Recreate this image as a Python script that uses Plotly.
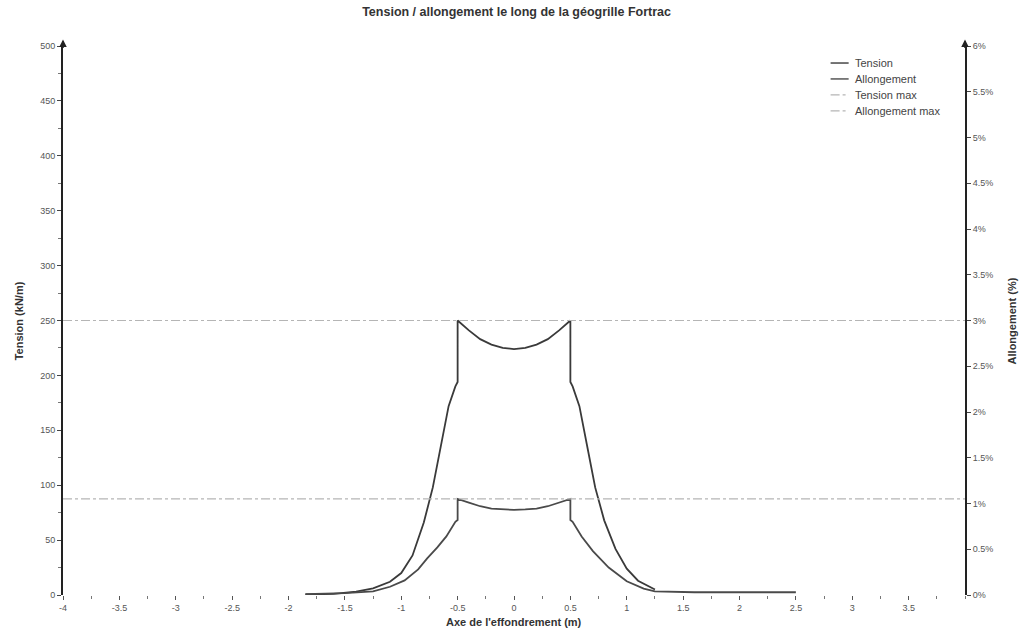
import plotly.graph_objects as go

# Position along the collapse axis (m) and tension in the geogrid (kN/m)
tension_x = [-1.85, -1.6, -1.4, -1.25, -1.1, -1.0, -0.9, -0.8, -0.72, -0.65, -0.58, -0.52, -0.5,
             -0.5, -0.4, -0.3, -0.2, -0.1, 0.0, 0.1, 0.2, 0.3, 0.4, 0.5,
             0.5, 0.52, 0.58, 0.65, 0.72, 0.8, 0.9, 1.0, 1.1, 1.25]
tension_kn = [0.5, 1, 3, 6, 12, 20, 36, 66, 98, 135, 172, 190, 194,
              250, 241, 233, 228, 225, 224, 225, 228, 233, 241, 250,
              194, 190, 172, 135, 98, 68, 42, 24, 13, 5]

# Strain along the same axis (%)
allong_x = [-1.85, -1.5, -1.25, -1.1, -0.97, -0.85, -0.77, -0.68, -0.6, -0.52, -0.5,
            -0.5, -0.4, -0.3, -0.2, -0.1, 0.0, 0.1, 0.2, 0.3, 0.4, 0.5,
            0.5, 0.52, 0.6, 0.7, 0.84, 1.0, 1.15, 1.25, 1.6, 2.0, 2.5]
allong_pct = [0.01, 0.02, 0.04, 0.09, 0.16, 0.28, 0.40, 0.52, 0.64, 0.80, 0.82,
              1.05, 1.01, 0.97, 0.945, 0.935, 0.93, 0.935, 0.945, 0.97, 1.01, 1.05,
              0.82, 0.80, 0.64, 0.48, 0.30, 0.15, 0.07, 0.04, 0.03, 0.03, 0.03]

# Design limits
TENSION_MAX = 250
ALLONG_MAX = 1.05
X_SPAN = [-4, 4]

# Tick labels
x_ticks = [-4, -3.5, -3, -2.5, -2, -1.5, -1, -0.5, 0, 0.5, 1, 1.5, 2, 2.5, 3, 3.5]
x_ticklabels = ["-4", "-3.5", "-3", "-2.5", "-2", "-1.5", "-1", "-0.5", "0",
                "0.5", "1", "1.5", "2", "2.5", "3", "3.5"]
y2_ticks = [0, 0.5, 1, 1.5, 2, 2.5, 3, 3.5, 4, 4.5, 5, 5.5, 6]
y2_ticklabels = ["0%", "0.5%", "1%", "1.5%", "2%", "2.5%", "3%", "3.5%",
                 "4%", "4.5%", "5%", "5.5%", "6%"]

FONT = "Liberation Sans, Arial, sans-serif"
TICK_FONT = dict(family=FONT, size=9, color="#555555")

SERIES_STYLE = {
    "Tension": dict(color="#3a3a3a", width=1.8, dash="solid"),
    "Allongement": dict(color="#4a4a4a", width=1.8, dash="solid"),
    "Tension max": dict(color="#b5b5b5", width=1.2, dash="dashdot"),
    "Allongement max": dict(color="#b5b5b5", width=1.2, dash="dashdot"),
}

fig = go.Figure()
fig.add_trace(go.Scatter(x=tension_x, y=tension_kn, name="Tension", mode="lines",
                         line=SERIES_STYLE["Tension"]))
fig.add_trace(go.Scatter(x=allong_x, y=allong_pct, name="Allongement", mode="lines",
                         line=SERIES_STYLE["Allongement"], yaxis="y2"))
fig.add_trace(go.Scatter(x=X_SPAN, y=[TENSION_MAX, TENSION_MAX], name="Tension max",
                         mode="lines", line=SERIES_STYLE["Tension max"]))
fig.add_trace(go.Scatter(x=X_SPAN, y=[ALLONG_MAX, ALLONG_MAX], name="Allongement max",
                         mode="lines", line=SERIES_STYLE["Allongement max"], yaxis="y2"))

fig.update_layout(
    width=1025, height=638,
    margin=dict(l=63, r=60, t=46, b=43),
    paper_bgcolor="white", plot_bgcolor="white",
    font=dict(family=FONT, color="#333333"),
    showlegend=False,
    xaxis=dict(range=X_SPAN, showline=False, showgrid=False, zeroline=False,
               tickvals=x_ticks, ticktext=x_ticklabels, ticks="outside", ticklen=4,
               tickcolor="#555555", tickfont=TICK_FONT,
               minor=dict(ticks="outside", ticklen=3, dtick=0.25, tickcolor="#777777")),
    yaxis=dict(range=[0, 500], showline=True, linecolor="#222222", linewidth=2,
               showgrid=False, zeroline=False, dtick=50, ticks="outside", ticklen=4,
               tickcolor="#444444", tickfont=TICK_FONT,
               minor=dict(ticks="outside", ticklen=3, dtick=25, tickcolor="#777777")),
    yaxis2=dict(range=[0, 6], overlaying="y", side="right", showline=True,
                linecolor="#222222", linewidth=2, showgrid=False, zeroline=False,
                tickvals=y2_ticks, ticktext=y2_ticklabels, ticks="outside", ticklen=4,
                tickcolor="#444444", tickfont=TICK_FONT),
    title=dict(text="<b>Tension / allongement le long de la géogrille Fortrac</b>",
               x=0.504, xanchor="center", y=0.982, yanchor="middle",
               font=dict(family=FONT, size=12.5, color="#333333")),
)

# Legend box in the upper right corner of the plot area (paper coordinates)
LEG_X0, LEG_X1, LEG_TXT = 0.851, 0.871, 0.876
LEG_Y0, LEG_STEP = 0.969, 0.029
for i, name in enumerate(SERIES_STYLE):
    ly = LEG_Y0 - i * LEG_STEP
    st = SERIES_STYLE[name]
    fig.add_shape(type="line", xref="paper", yref="paper", x0=LEG_X0, x1=LEG_X1, y0=ly, y1=ly,
                  line=dict(color=st["color"], width=min(st["width"], 1.4), dash=st["dash"]))
    fig.add_annotation(text=name, xref="paper", yref="paper", x=LEG_TXT, y=ly,
                       xanchor="left", yanchor="middle", showarrow=False,
                       font=dict(family=FONT, size=11, color="#444444"))

# Axis titles
fig.add_annotation(text="<b>Tension (kN/m)</b>", xref="paper", yref="paper",
                   x=-0.049, y=0.5, xanchor="center", yanchor="middle", textangle=-90,
                   showarrow=False, font=dict(family=FONT, size=11, color="#333333"))
fig.add_annotation(text="<b>Allongement (%)</b>", xref="paper", yref="paper",
                   x=1.052, y=0.5, xanchor="center", yanchor="middle", textangle=-90,
                   showarrow=False, font=dict(family=FONT, size=11, color="#333333"))
fig.add_annotation(text="<b>Axe de l'effondrement (m)</b>", xref="paper", yref="paper",
                   x=0.5, y=-0.05, xanchor="center", yanchor="middle",
                   showarrow=False, font=dict(family=FONT, size=11, color="#333333"))

# Arrowheads on top of both vertical axes
for xd in (0, 1):
    fig.add_annotation(text="", xref="paper", yref="paper", x=xd, y=1.012,
                       ax=0, ay=10, showarrow=True, arrowhead=2, arrowsize=1,
                       arrowwidth=1.5, arrowcolor="#222222")

fig.write_html("out.html")
